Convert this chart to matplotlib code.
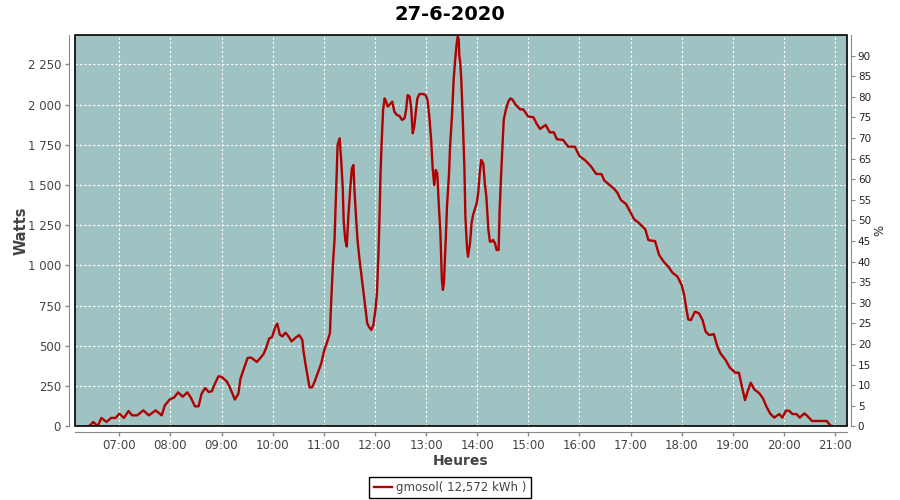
import matplotlib
matplotlib.use('Agg')
import matplotlib.pyplot as plt
from matplotlib.ticker import FixedLocator, FuncFormatter
from matplotlib.patches import Rectangle

title = '27-6-2020'
series_label = 'gmosol( 12,572 kWh )'
x_label = 'Heures'
y_label = 'Watts'
y2_label = '%'

hours = [6.38, 6.43, 6.49, 6.56, 6.59, 6.65, 6.75, 6.84, 6.93, 7.00, 7.09, 7.18, 7.25, 7.35, 7.47,
         7.58, 7.71, 7.83, 7.89, 7.99, 8.07, 8.15, 8.24, 8.33, 8.40, 8.48, 8.55, 8.61, 8.68, 8.75,
         8.81, 8.87, 8.94, 9.00, 9.10, 9.16, 9.26, 9.33, 9.37, 9.45, 9.51, 9.58, 9.69, 9.75, 9.82,
         9.88, 9.93, 9.99, 10.05, 10.09, 10.14, 10.19, 10.25, 10.31, 10.37, 10.45, 10.52, 10.58,
         10.60, 10.64, 10.69, 10.72, 10.77, 10.82, 10.88, 10.95, 11.01, 11.08, 11.12, 11.14, 11.18,
         11.21, 11.24, 11.27, 11.31, 11.34, 11.37, 11.39, 11.42, 11.45, 11.48, 11.52, 11.55, 11.58,
         11.60, 11.63, 11.66, 11.70, 11.74, 11.78, 11.82, 11.85, 11.89, 11.93, 11.97, 12.01, 12.04,
         12.07, 12.09, 12.11, 12.13, 12.16, 12.19, 12.22, 12.25, 12.30, 12.34, 12.38, 12.43, 12.48,
         12.53, 12.58, 12.61, 12.64, 12.68, 12.71, 12.74, 12.77, 12.79, 12.83, 12.87, 12.94, 12.99,
         13.03, 13.07, 13.10, 13.13, 13.16, 13.19, 13.22, 13.25, 13.28, 13.31, 13.33, 13.35, 13.38,
         13.41, 13.45, 13.47, 13.51, 13.54, 13.57, 13.60, 13.62, 13.64, 13.65, 13.67, 13.69, 13.71,
         13.73, 13.75, 13.77, 13.80, 13.82, 13.86, 13.89, 13.92, 13.95, 13.99, 14.02, 14.05, 14.08,
         14.12, 14.15, 14.18, 14.22, 14.25, 14.28, 14.31, 14.35, 14.38, 14.42, 14.44, 14.47, 14.50,
         14.52, 14.56, 14.61, 14.65, 14.69, 14.75, 14.84, 14.90, 15.00, 15.10, 15.16, 15.23, 15.34,
         15.42, 15.50, 15.56, 15.68, 15.78, 15.91, 16.00, 16.12, 16.23, 16.33, 16.43, 16.49, 16.59,
         16.69, 16.75, 16.81, 16.91, 17.01, 17.07, 17.16, 17.29, 17.35, 17.48, 17.56, 17.65, 17.75,
         17.82, 17.92, 18.00, 18.05, 18.09, 18.13, 18.18, 18.26, 18.34, 18.41, 18.47, 18.54, 18.63,
         18.70, 18.76, 18.86, 18.94, 19.05, 19.12, 19.18, 19.24, 19.29, 19.35, 19.42, 19.52, 19.59,
         19.66, 19.73, 19.81, 19.91, 19.97, 20.04, 20.10, 20.17, 20.25, 20.31, 20.40, 20.46, 20.55,
         20.69, 20.84, 20.90, 20.94]

watts = [0, 6, 27, 6, 10, 52, 27, 52, 52, 79, 52, 95, 68, 68, 99,
         68, 99, 68, 130, 168, 178, 211, 184, 211, 178, 124, 124, 203, 238, 213,
         218, 265, 311, 307, 280, 244, 166, 203, 296, 369, 425, 427, 400, 421, 448,
         493, 545, 555, 617, 638, 570, 559, 582, 559, 528, 551, 567, 537,
         474, 391, 298, 242, 242, 277, 329, 391, 474, 537, 578, 744, 1013,
         1158, 1458, 1748, 1790, 1655, 1489, 1272, 1158, 1117, 1303, 1489, 1603, 1624,
         1468, 1303, 1158, 1034, 930, 826, 723, 640, 615, 599, 630, 723, 826,
         1075, 1303, 1572, 1748, 1966, 2038, 2018, 1987, 2003, 2018, 1956, 1935, 1929,
         1904, 1914, 1966, 2059, 2049, 1976, 1821, 1862, 1924, 2038, 2065, 2065, 2059,
         2028, 1904, 1779, 1603, 1499, 1593, 1572, 1375, 1210, 910, 848, 889, 1117,
         1365, 1572, 1738, 1945, 2153, 2277, 2381, 2422, 2405, 2307, 2256, 2153, 1987,
         1800, 1613, 1303, 1117, 1054, 1137, 1261, 1313, 1344, 1386, 1448, 1572, 1655,
         1634, 1510, 1427, 1220, 1148, 1148, 1158, 1137, 1096, 1096, 1344, 1572, 1779,
         1904, 1966, 2018, 2038, 2031, 2000, 1970, 1970, 1925, 1921, 1883, 1848, 1873,
         1827, 1827, 1784, 1780, 1738, 1738, 1680, 1651, 1614, 1568, 1568, 1527, 1500,
         1473, 1448, 1407, 1382, 1324, 1287, 1265, 1224, 1157, 1151, 1064, 1023, 988,
         955, 930, 878, 816, 733, 664, 660, 712, 702, 660, 588, 567, 573,
         495, 453, 412, 366, 333, 333, 246, 163, 215, 271, 230, 205, 174,
         122, 80, 54, 76, 54, 97, 97, 76, 76, 54, 80, 64, 33,
         33, 33, 8, 0]

x_ticks = list(range(7, 22))
x_tick_labels = ['%02d:00' % h for h in x_ticks]
y_ticks = [0, 250, 500, 750, 1000, 1250, 1500, 1750, 2000, 2250]
y2_ticks = list(range(0, 95, 5))

W, H = 900, 500
fig = plt.figure(figsize=(9, 5), dpi=100)
L, R, T, B = 75, 846.7, 35, 426.3
ax = fig.add_axes([L / W, 1 - B / H, (R - L) / W, (B - T) / H])
ax.set_facecolor('#9FC3C3')

line, = ax.plot(hours, watts, color='#B00000', lw=1.7, label=series_label, zorder=3)
ax.set_xlim(6.1334, 21.229)
ax.set_ylim(0, 2432)

ax.xaxis.set_major_locator(FixedLocator(x_ticks))
ax.set_xticklabels(x_tick_labels)
ax.yaxis.set_major_locator(FixedLocator(y_ticks))
ax.yaxis.set_major_formatter(FuncFormatter(lambda v, p: '{:,}'.format(int(v)).replace(',', ' ')))

ax.grid(True, color='white', linestyle=(0, (2, 2)), linewidth=0.8)
ax.set_axisbelow(True)

grey = '#888888'
txt = '#444444'
for s in ['top', 'right']:
    ax.spines[s].set_visible(False)
ax.spines['left'].set_position(('outward', 4))
ax.spines['bottom'].set_position(('outward', 4))
ax.spines['left'].set_color(grey)
ax.spines['bottom'].set_color(grey)
ax.tick_params(axis='both', direction='out', length=3, color=grey, labelcolor=txt, labelsize=8.5, width=1)
ax.tick_params(axis='x', pad=2)
ax.tick_params(axis='y', pad=3)

ax.add_patch(Rectangle((0, 0), 1, 1, transform=ax.transAxes, fill=False,
                       edgecolor='black', lw=1.2, zorder=5, clip_on=False))

ax2 = ax.twinx()
ax2.set_ylim(0, 95.0)
ax2.yaxis.set_major_locator(FixedLocator(y2_ticks))
for s in ['top', 'left', 'bottom']:
    ax2.spines[s].set_visible(False)
ax2.spines['right'].set_position(('outward', 3))
ax2.spines['right'].set_color(grey)
ax2.tick_params(axis='y', direction='out', length=3, color=grey, labelcolor='#222222', labelsize=7.5, pad=2)

fig.text(450 / W, 1 - 14 / H, title, ha='center', va='center', fontsize=14, fontweight='bold', color='black')
fig.text(21 / W, 1 - 231 / H, y_label, ha='center', va='center', rotation=90,
         fontsize=10.5, fontweight='bold', color=txt)
fig.text(461 / W, 1 - 461 / H, x_label, ha='center', va='center', fontsize=10, fontweight='bold', color=txt)
fig.text(880 / W, 1 - 230 / H, y2_label, ha='center', va='center', rotation=90, fontsize=8.5, color='#222222')

leg = fig.legend(handles=[line], labels=[series_label], loc='center',
                 bbox_to_anchor=(450 / W, 1 - 487.5 / H), fontsize=8.5, frameon=True,
                 fancybox=False, framealpha=1, edgecolor='black', handlelength=1.6,
                 handletextpad=0.3, borderpad=0.35, borderaxespad=0)
leg.get_frame().set_linewidth(1.0)
for t in leg.get_texts():
    t.set_color(txt)

fig.savefig('out.png', dpi=100)
